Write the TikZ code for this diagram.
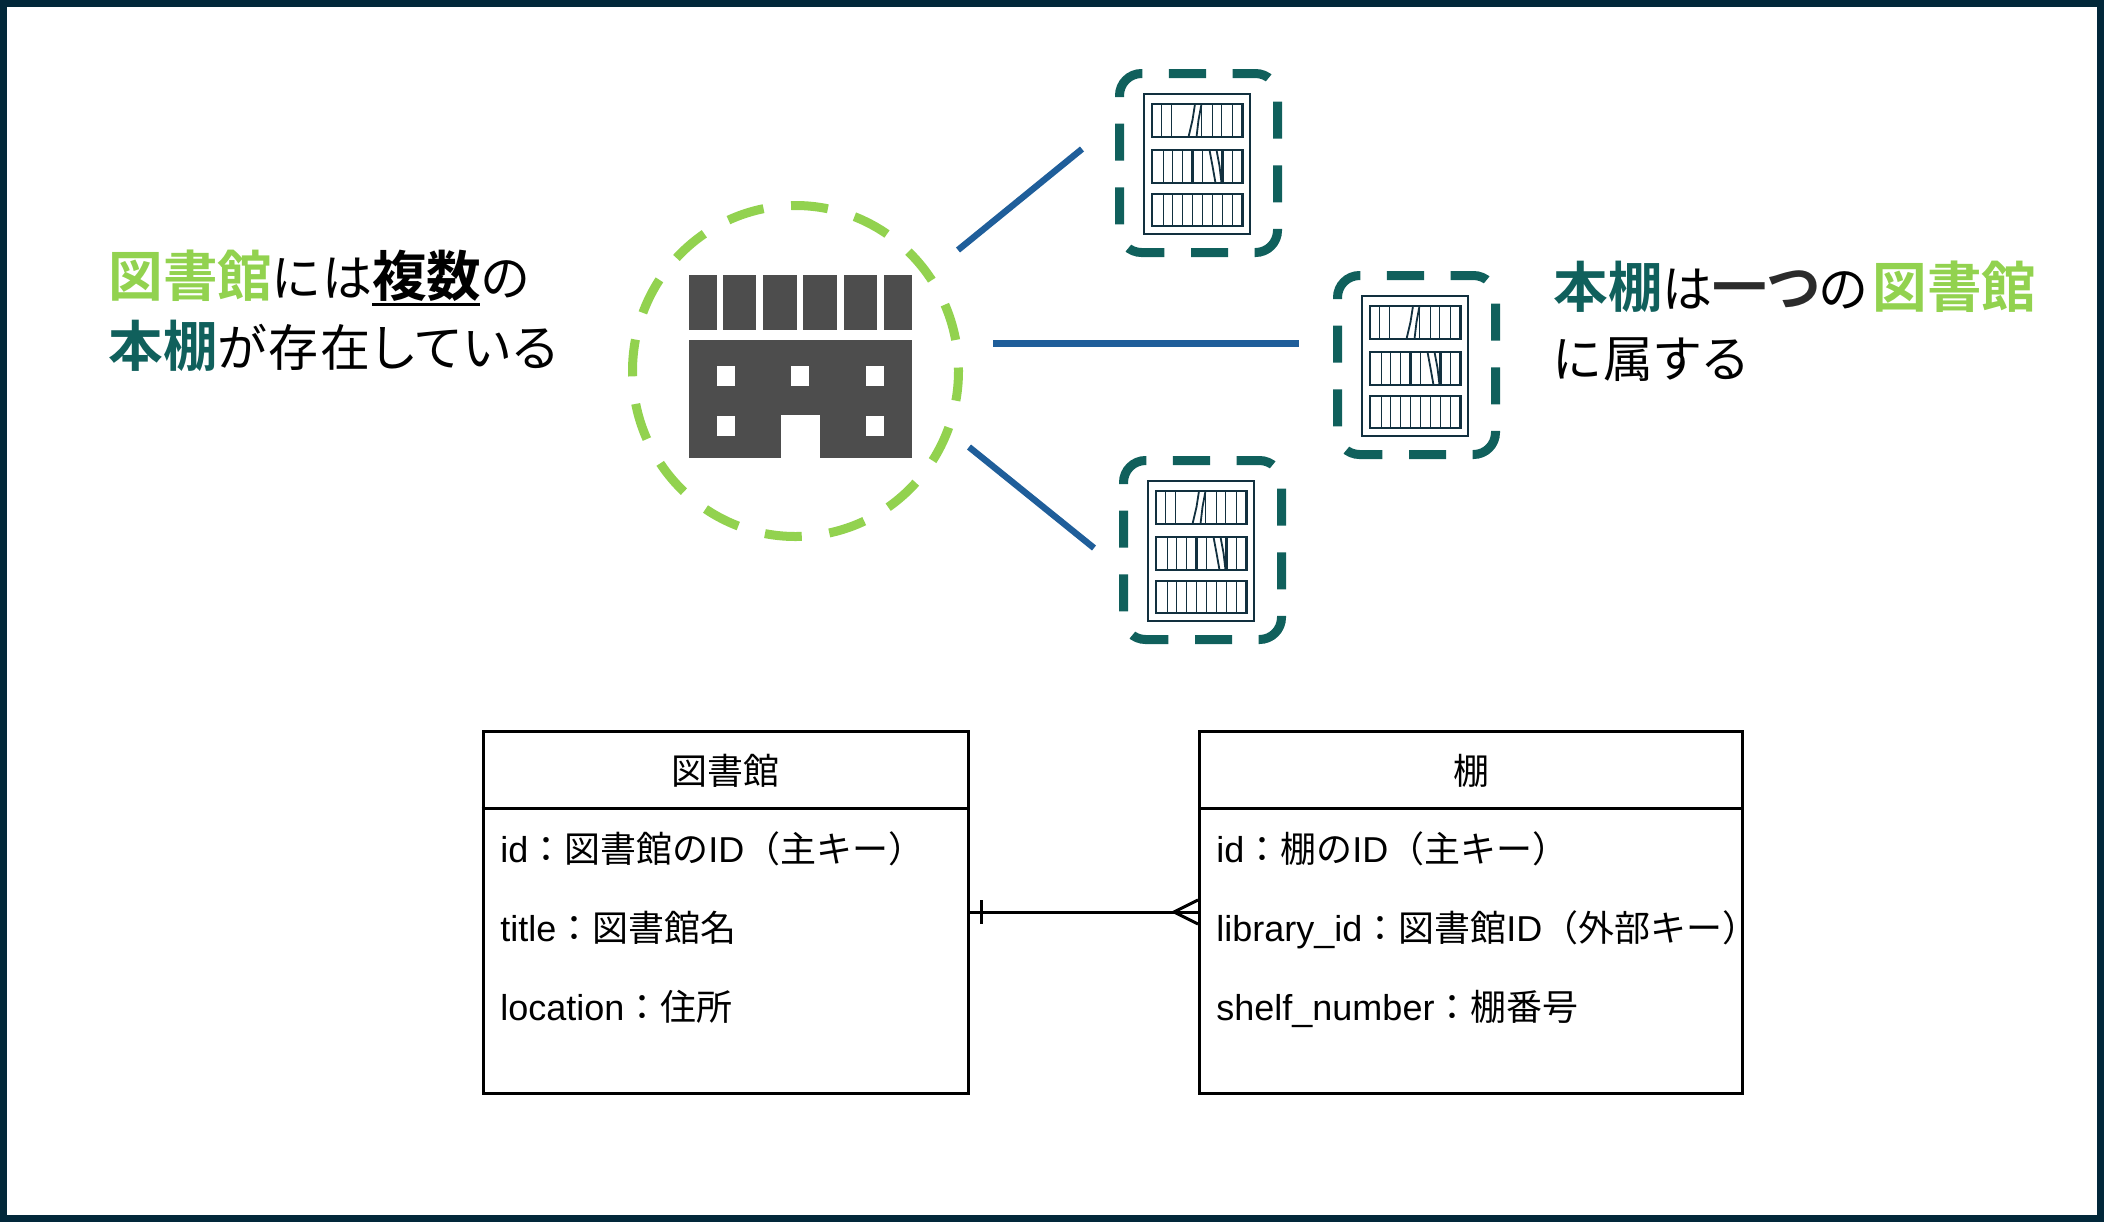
\documentclass[tikz,border=0pt]{standalone}
\usepackage{fontspec}
\setmainfont{Liberation Sans}
\newfontfamily\jpfont{Noto Sans CJK JP}[BoldFont={Noto Sans CJK JP Bold}]
\newfontfamily\jpcapfont{Noto Sans CJK JP}[BoldFont={Noto Sans CJK JP Bold},RawFeature=+palt]
\newfontfamily\jpthinfont{Noto Sans CJK JP}[RawFeature=+palt,LetterSpace=4]
\usepackage{xcolor}
\usetikzlibrary{positioning,shapes.geometric}

\definecolor{framecol}{HTML}{02283A}
\definecolor{libgreen}{HTML}{92D24F}
\definecolor{shelfteal}{HTML}{10605C}
\definecolor{linkblue}{HTML}{1F5E9A}
\definecolor{buildgray}{HTML}{4D4D4D}
\definecolor{iconnavy}{HTML}{12303F}
\definecolor{softblack}{HTML}{2B2B2B}

\newcommand{\bigjp}{\fontsize{27.3}{35}\selectfont\jpcapfont\bfseries}
\newcommand{\gk}[1]{{\bigjp\textcolor{libgreen}{#1}}}
\newcommand{\tl}[1]{{\bigjp\textcolor{shelfteal}{#1}}}
\newcommand{\ulbold}[1]{\rlap{\rule[-4.5pt]{54pt}{1.4pt}}{\bigjp #1}}
\newcommand{\jt}[1]{{\jpfont #1}}

\tikzset{
    shelfrow/.style={draw=iconnavy, line width=0.9pt},
    shelfdash/.style={draw=shelfteal, line width=4.5pt, rounded corners=11pt, dash pattern=on 18.5pt off 13.3pt},
    shelfpic/.pic={
        \draw[shelfdash] (-29.5,-89.5) -- (79,-89.5) -- (79,89.5) -- (-79,89.5) -- (-79,-89.5) -- (-29.5,-89.5);
        \draw[iconnavy, line width=1pt] (-54.5,-69) rectangle (51.5,71);
        % top row
        \draw[shelfrow, line width=1.1pt] (-46.5,-59) rectangle (44,-26);
        \foreach \bx in {-37,-27,3,14,23,34} {\draw[shelfrow] (\bx,-59) -- (\bx,-26);}
        \draw[shelfrow] (-3.5,-59) -- (-6,-43) -- (-10,-26);
        \draw[shelfrow] (3,-59) -- (0,-43) -- (-2,-26);
        % middle row
        \draw[shelfrow, line width=1.1pt] (-46.5,-13) rectangle (44,20);
        \foreach \bx in {-35,-26,-16,4,34} {\draw[shelfrow] (\bx,-13) -- (\bx,20);}
        \draw[shelfrow] (11,-13) -- (14,3) -- (17,20);
        \draw[shelfrow] (18,-13) -- (21,3) -- (23,20);
        \draw[iconnavy, line width=1.5pt] (-6,-13) -- (-6,20) (24,-13) -- (24,20);
        % bottom row
        \draw[shelfrow, line width=1.1pt] (-46.5,31) rectangle (44,63);
        \foreach \bx in {-35,-26,-16,-6,4,14,24,34} {\draw[shelfrow] (\bx,31) -- (\bx,63);}
    },
    erbox/.style={draw=black, line width=1.5pt, inner sep=0pt},
    ertext/.style={inner sep=0pt, anchor=west, text height=13pt, text depth=4pt, font=\fontsize{18}{22}\selectfont},
    ertitle/.style={inner sep=0pt, anchor=north, minimum height=39pt, text height=17pt, text depth=1.4pt, font=\fontsize{18}{22}\selectfont\jpfont},
    bigtext/.style={inner sep=0pt, anchor=west, align=left, font=\fontsize{25}{35}\selectfont\jpthinfont},
    linkline/.style={draw=linkblue, line width=3.2pt}
}

\begin{document}
\begin{tikzpicture}[x=0.5pt, y=-0.5pt]

\useasboundingbox (0,0) rectangle (2104,1222);
\draw[framecol, line width=3.5pt] (3.5,3.5) rectangle (2100.5,1218.5);

% Left and right captions
\node[bigtext] (leftcap) at (108,311) {\gk{図書館}には\ulbold{複数}の\\\tl{本棚}が存在している};
\node[bigtext] (rightcap) at (1553,321) {\tl{本棚}は{\bigjp\color{softblack}一つ}の\kern2.7pt\gk{図書館}\\に属する};

% Library with dashed circle
\node[ellipse, draw=libgreen, line width=4.5pt, minimum width=163pt, minimum height=165.5pt, inner sep=0pt, dash pattern=on 18.5pt off 13.87pt, dash phase=16.75pt] (library) at (795.5,371) {};
\foreach \rx/\rw in {689/28,723/33,763/34,803/34,844/33,884/28} {
    \fill[buildgray] (\rx,275) rectangle ++(\rw,55);
}
\fill[buildgray] (689,340) rectangle (912,458);
\foreach \wx/\wy in {717/366,791/366,866/366,717/416,866/416} {
    \fill[white] (\wx,\wy) rectangle ++(18,20);
}
\fill[white] (781,415) rectangle (820,458);

% Shelves
\pic (shelfone) at (1198.5,163) {shelfpic};
\pic (shelftwo) at (1416.5,365) {shelfpic};
\pic (shelfthree) at (1202.5,550) {shelfpic};

% Lines between library and shelves
\coordinate (linkoneA) at (958,250);
\coordinate (linkoneB) at (1082,149);
\coordinate (linktwoA) at (993,343.5);
\coordinate (linktwoB) at (1299,343.5);
\coordinate (linkthreeA) at (969,447);
\coordinate (linkthreeB) at (1094,548);
\draw[linkline] (linkoneA) -- (linkoneB);
\draw[linkline] (linktwoA) -- (linktwoB);
\draw[linkline] (linkthreeA) -- (linkthreeB);

% Tables
\node[erbox, minimum width=242.5pt, minimum height=181pt] (librarytable) at (725.5,912) {};
\node[ertitle] (librarytitle) at (librarytable.north) {図書館};
\draw[line width=1.5pt] (librarytable.west |- librarytitle.south) -- (librarytable.east |- librarytitle.south);
\node[ertext] (libid) at (500,853) {id\jt{：図書館の}ID\jt{（主キー）}};
\node[ertext] (libtitle) at (500,932) {title\jt{：図書館名}};
\node[ertext] (libloc) at (500,1011) {location\jt{：住所}};

\node[erbox, minimum width=271.5pt, minimum height=181pt] (shelftable) at (1471,912) {};
\node[ertitle] (shelftitle) at (shelftable.north) {棚};
\draw[line width=1.5pt] (shelftable.west |- shelftitle.south) -- (shelftable.east |- shelftitle.south);
\node[ertext] (shelfid) at (1216,853) {id\jt{：棚の}ID\jt{（主キー）}};
\node[ertext] (shelflib) at (1216,932) {library\_id\jt{：図書館}ID\jt{（外部キー）}};
\node[ertext] (shelfnum) at (1216,1011) {shelf\_number\jt{：棚番号}};

% Relation with one and many ends
\draw[line width=1.5pt] (librarytable.east) -- (shelftable.west);
\draw[line width=1.5pt] ([xshift=6pt,yshift=6pt]librarytable.east) -- ([xshift=6pt,yshift=-6pt]librarytable.east);
\draw[line width=1.5pt] ([yshift=6pt]shelftable.west) -- ([xshift=-12pt]shelftable.west) -- ([yshift=-6pt]shelftable.west);

\end{tikzpicture}
\end{document}
